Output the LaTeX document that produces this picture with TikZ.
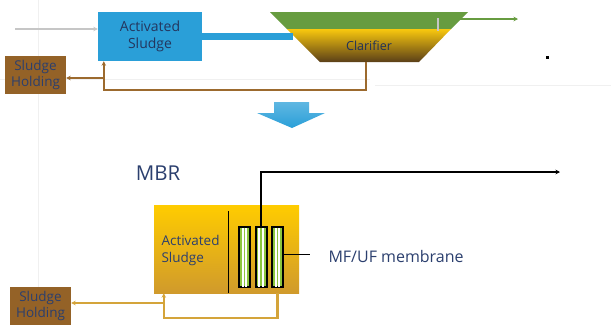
\documentclass[tikz,border=0pt]{standalone}
\usepackage{fontspec}
\setmainfont{Open Sans}
\usetikzlibrary{arrows.meta,calc}
\definecolor{asblue}{HTML}{2A9FD8}
\definecolor{clgreen}{HTML}{679C40}
\definecolor{clyellow}{HTML}{F9C80E}
\definecolor{clbrown}{HTML}{5A3F18}
\definecolor{shbrown}{HTML}{946227}
\definecolor{retbrown}{HTML}{9C6A2E}
\definecolor{gold}{HTML}{D4A43A}
\definecolor{mbrtop}{HTML}{FFCC00}
\definecolor{mbrbot}{HTML}{D09A2C}
\definecolor{txtblue}{HTML}{2B3F6E}
\definecolor{memgreen}{HTML}{8CC63F}
\tikzset{
  faint/.style={draw=gray!12, line width=0.8},
  holdbox/.style={fill=shbrown, minimum width=61, minimum height=38, inner sep=0,
    align=center, text=txtblue, font=\fontsize{13.5}{16}\selectfont},
  tip/.style={-{Stealth[length=4.5pt,width=4.5pt]}},
  modbox/.style={draw=black, line width=2, fill=memgreen, minimum width=11, minimum height=60, inner sep=0},
}
\begin{document}
\begin{tikzpicture}[x=1pt,y=-1pt]
\useasboundingbox (0,0) rectangle (611,325);
% faint background lines
\draw[faint] (38,0) -- (38,287);
\draw[faint] (0,79) -- (370,79);
\draw[faint] (375,85) -- (611,85);

% ---------- top: conventional ----------
\node[fill=asblue, minimum width=104, minimum height=49, inner sep=0, align=center,
      text=txtblue!85!black, font=\fontsize{14}{17}\selectfont] (as1) at (150,36.5) {Activated\\Sludge};
\node[holdbox] (sh1) at (35.5,75) {Sludge\\Holding};
\coordinate (in1) at (15,29);
\draw[gray!45, line width=1.8, tip] (in1) -- (in1 -| as1.west);

% clarifier
\fill[clgreen] (270,12) -- (468,12) -- (451,29) -- (287,29) -- cycle;
\shade[top color=clyellow, middle color=clyellow!75!clbrown, bottom color=clbrown]
  (287,29) -- (451,29) -- (419,62) -- (320,62) -- cycle;
\node[text=txtblue!80!black, font=\fontsize{12.5}{14}\selectfont] (clar) at (369,45.5) {Clarifier};
\coordinate (clin) at (293,36.5);
\coordinate (clbot) at (366,62);
\coordinate (clout) at (460,19);
\coordinate (eff1) at (518,19);
\draw[asblue, line width=6.5] (as1.east) -- (clin);
\draw[gray!45, line width=1.8] (438,18) -- (438,31);
\draw[clgreen, line width=1.8, tip] (clout) -- (eff1);
\fill[black] (546,56) rectangle (549,58.5);

% return sludge (top)
\coordinate (r1) at ($(as1.south west)+(6,0)$);
\draw[retbrown, line width=2, tip] (clbot) -- (clbot |- 0,89.5) -| (r1);
\coordinate (b1) at (104,78);
\draw[retbrown, line width=2, tip] (b1) -- (b1 -| sh1.east);

% big arrow
\shade[top color=asblue!75!white, bottom color=asblue]
  (274,102) -- (309,102) -- (309,113) -- (325,113) -- (292,128) -- (257,113) -- (274,113) -- cycle;

% ---------- bottom: MBR ----------
\node[text=txtblue, font=\fontsize{20.5}{24}\selectfont] (mbrlbl) at (158,173) {MBR};
\node[minimum width=145, minimum height=88, inner sep=0, top color=mbrtop, bottom color=mbrbot] (mbr) at (226.5,249) {};
\draw[black, line width=0.9] (228,211) -- (228 ,293);
\node[anchor=west, align=left, text=txtblue, font=\fontsize{13.5}{17}\selectfont] (as2) at (158,250) {Activated\\Sludge};

\foreach \i/\x in {1/244.5, 2/261, 3/277.5} {
  \node[modbox] (m\i) at (\x,257) {};
  \fill[white] ($(m\i.north)+(-2.8,1.5)$) rectangle ($(m\i.south)+(-0.8,-1.5)$);
  \fill[white] ($(m\i.north)+(0.8,1.5)$) rectangle ($(m\i.south)+(2.8,-1.5)$);
}
\coordinate (eff2) at (560,172);
\draw[black, line width=2.4, tip] (m2.north) -- (m2.north |- eff2) -- (eff2);
\node[anchor=west, text=txtblue, font=\fontsize{16}{19}\selectfont] (mem) at (325,256) {MF/UF membrane};
\coordinate (le) at (310,254);
\draw[black, line width=0.9] (m3.east |- le) -- (le);

\node[holdbox] (sh2) at (40.5,306) {Sludge\\Holding};
\coordinate (r2) at ($(mbr.south west)+(10,0)$);
\draw[gold, line width=2.3, tip] (m3.south |- mbr.south) -- ++(0,25) -| (r2);
\coordinate (b2) at (164,303);
\draw[gold, line width=2.3, tip] (b2) -- (b2 -| sh2.east);
\end{tikzpicture}
\end{document}
